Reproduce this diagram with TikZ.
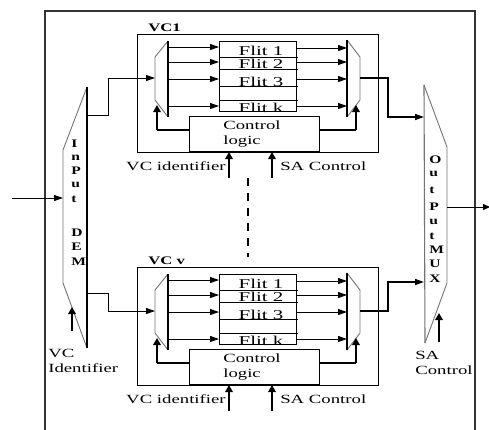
\documentclass[tikz,border=0pt]{standalone}
\usepackage{fontspec}
\setmainfont{Liberation Serif}
\usetikzlibrary{arrows.meta}
\tikzset{
  thinln/.style={line width=0.9pt},
  tri/.style={-{Triangle[length=9pt,width=6pt]}},
  ctrl/.style={line width=2.2pt,-{Triangle[length=7pt,width=7.5pt]}},
  boxnode/.style={draw,line width=0.9pt,inner sep=0pt},
  bigtxt/.style={font=\fontsize{12.5}{15}\selectfont,xscale=1.5,inner sep=0pt},
  flittxt/.style={font=\fontsize{13.5}{15}\selectfont,xscale=1.55,inner sep=0pt},
  lbltxt/.style={font=\bfseries\fontsize{11.5}{13}\selectfont,xscale=1.45,inner sep=0pt},
  muxtxt/.style={font=\bfseries\fontsize{11.5}{12}\selectfont,xscale=1.35,inner sep=0pt},
  muxedge/.style={line width=0.9pt,draw=black!55},
  muxthick/.style={line width=1.8pt}
}
\newcommand\VCblock[3]{%
\begin{scope}[yshift=-#3pt]
  \node[boxnode,minimum width=241pt,minimum height=118pt] (#1box) at (257.5,93) {};
  \node[lbltxt,anchor=west] (#1lab) at (148,28) {#2};
  % input demux of the VC
  \coordinate (#1dt) at (168,41);
  \coordinate (#1db) at (168,117);
  \draw[muxedge] (#1dt) -- (155,57) -- (155,100) -- (#1db);
  \draw[muxthick] (#1dt) -- (#1db);
  \coordinate (#1din) at (155,78);
  % flit buffer
  \node[boxnode,minimum width=77pt,minimum height=70pt] (#1flit) at (257.5,76) {};
  \foreach \yy in {57,69,86,100} \draw[thinln] (219,\yy) -- (298,\yy);
  \node[flittxt,anchor=base] (#1f1) at (261,55) {Flit 1};
  \node[flittxt,anchor=base] (#1f2) at (261,68.5) {Flit 2};
  \node[flittxt,anchor=base] (#1f3) at (261,86) {Flit 3};
  \node[flittxt,anchor=base] (#1fk) at (261,112) {Flit k};
  \foreach \yy in {47,62,79,106} \draw[thinln,tri] (169,\yy) -- (219,\yy);
  % output mux of the VC
  \coordinate (#1mt) at (347,40);
  \coordinate (#1mb) at (347,117);
  \draw[muxedge] (#1mt) -- (360,57) -- (360,100) -- (#1mb);
  \draw[muxthick] (#1mt) -- (#1mb);
  \coordinate (#1mout) at (360,78);
  \coordinate (#1mbend) at (388,78);
  \foreach \yy in {48,62,79,106} \draw[thinln,tri] (296,\yy) -- (347,\yy);
  % control logic
  \node[boxnode,minimum width=130pt,minimum height=35pt] (#1ctl) at (254,133.5) {};
  \node[bigtxt,align=left,anchor=west] (#1ctltxt) at (223,134.5) {Control\\logic};
  \coordinate (#1cl) at (189,130);
  \coordinate (#1clc) at (157,130);
  \coordinate (#1dbot) at (157,105);
  \coordinate (#1cr) at (319,130);
  \coordinate (#1crc) at (356,130);
  \coordinate (#1mbot) at (356,105);
  \draw[line width=1.3pt] (#1cl) -- (#1clc);
  \draw[ctrl] (#1clc) -- (#1dbot);
  \draw[line width=1.3pt] (#1cr) -- (#1crc);
  \draw[ctrl] (#1crc) -- (#1mbot);
  % inputs of control logic
  \node[bigtxt,anchor=east] (#1vcid) at (226,166) {VC identifier};
  \node[bigtxt,anchor=west] (#1sa) at (280,166) {SA Control};
  \coordinate (#1a1s) at (229,178);
  \coordinate (#1a1e) at (229,152);
  \coordinate (#1a2s) at (272,178);
  \coordinate (#1a2e) at (272,152);
  \draw[ctrl] (#1a1s) -- (#1a1e);
  \draw[ctrl] (#1a2s) -- (#1a2e);
\end{scope}}
\begin{document}
\begin{tikzpicture}[x=1pt,y=-1pt]
  \useasboundingbox (0,0) rectangle (489,429);
  \clip (0,0) rectangle (489,429);
  % router frame
  \draw[line width=1.2pt,draw=black!80] (45,432) -- (45,11) -- (475,11) -- (475,432);
  % VC blocks
  \VCblock{a}{VC1}{0}
  \VCblock{b}{VC v}{233}
  % dashed separator
  \coordinate (dsh1) at (248,178);
  \coordinate (dsh2) at (248,257);
  \draw[line width=1.3pt,dash pattern=on 8pt off 7pt] (dsh1) -- (dsh2);
  % input demux
  \coordinate (it) at (87,87);
  \coordinate (ib) at (87,348);
  \draw[muxedge] (it) -- (63,150) -- (63,283) -- (ib);
  \draw[line width=1.1pt] (it) -- (ib);
  \foreach \ch/\yy in {I/144,n/158,P/171,u/185,t/199,D/233,E/247,M/262}
    \node[muxtxt,anchor=west] (in\yy) at (71,\yy) {\ch};
  \coordinate (inpS) at (12,198);
  \coordinate (inpE) at (63,198);
  \draw[thinln,tri] (inpS) -- (inpE);
  \coordinate (io1) at (87,115);
  \coordinate (io2) at (87,293);
  \draw[thinln,tri] (io1) -- (108,115) |- (adin);
  \draw[thinln,tri] (io2) -- (108,293) |- (bdin);
  \coordinate (ivs) at (72,331);
  \coordinate (ive) at (72,307);
  \draw[ctrl] (ivs) -- (ive);
  \node[bigtxt,anchor=west,align=left] (ivtxt) at (48,361) {VC\\Identifier};
  % output mux
  \coordinate (ot) at (424,85);
  \coordinate (ob) at (425,343);
  \draw[muxedge] (ot) -- (447,147) -- (447,283) -- (ob);
  \draw[line width=1.1pt,draw=black!55] (ot) -- (ob);
  \foreach \ch/\yy in {O/160,u/174,t/190,P/207,u/222,t/236,M/250,U/264,X/279}
    \node[muxtxt,anchor=west] (out\yy) at (429,\yy) {\ch};
  \coordinate (oi1) at (424,117);
  \coordinate (oi2) at (424,282);
  \draw[line width=1.4pt,tri] (amout) -- (ambend) |- (oi1);
  \draw[line width=1.4pt,tri] (bmout) -- (bmbend) |- (oi2);
  \coordinate (oo) at (447,207);
  \coordinate (ooE) at (490,207);
  \draw[thinln,-{Triangle[length=7pt,width=6pt]}] (oo) -- (ooE);
  \coordinate (osS) at (439,342);
  \coordinate (osE) at (439,313);
  \draw[ctrl] (osS) -- (osE);
  \node[bigtxt,anchor=west,align=left] (ostxt) at (415,362.5) {SA\\Control};
\end{tikzpicture}
\end{document}
